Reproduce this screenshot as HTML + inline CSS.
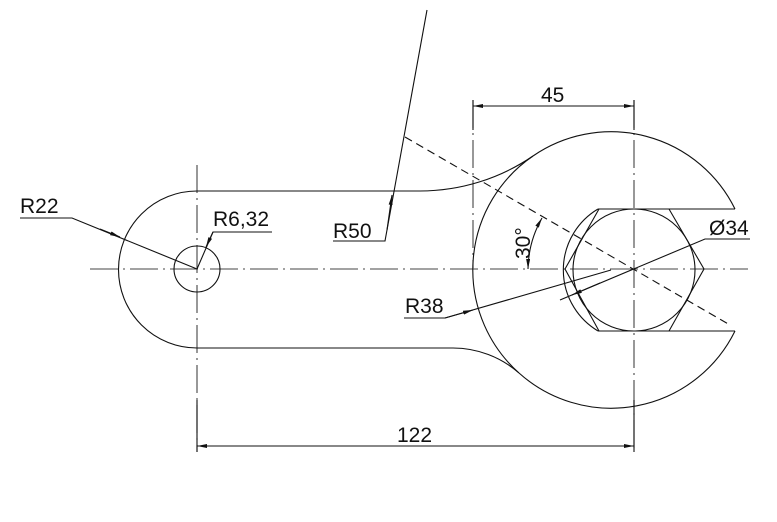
<!DOCTYPE html>
<html><head><meta charset="utf-8"><style>
html,body{margin:0;padding:0;background:#fff;}
svg{display:block;}
text{font-family:"Liberation Sans",sans-serif;font-size:21px;fill:#111;}
</style></head><body>
<svg width="777" height="522" viewBox="0 0 777 522" xmlns="http://www.w3.org/2000/svg">
<defs>
<marker id="ar" viewBox="0 0 10 4" refX="10" refY="2" markerWidth="10" markerHeight="4" markerUnits="userSpaceOnUse" orient="auto-start-reverse"><path d="M0,0 L10,2 L0,4 z" fill="#111"/></marker>
</defs>
<g fill="none" stroke="#111" stroke-width="1.1">
<g stroke="#444" stroke-dasharray="28,5,2,5">
<line x1="90" y1="269" x2="748" y2="269"/>
<line x1="197" y1="165" x2="197" y2="452"/>
<line x1="634" y1="100" x2="634" y2="452"/>
<line x1="473" y1="100" x2="473" y2="268"/>
</g>
<line x1="405" y1="137" x2="730" y2="325" stroke-dasharray="8,5"/>
<path d="M197,191 A78.5,78.5 0 0 0 197,348"/>
<circle cx="197" cy="269" r="23"/>
<path d="M197,191 L420,191 A200.7,200.7 0 0 0 533,156"/>
<path d="M197,348 L453,348 A100,100 0 0 1 519,373"/>
<path d="M533,156 A138,138 0 0 1 735,209"/>
<path d="M735,331 A138,138 0 0 1 519,373"/>
<path d="M533,156 A138,138 0 0 0 519,373"/>
<line x1="598" y1="209" x2="735" y2="209"/>
<line x1="598" y1="331" x2="735" y2="331"/>
<path d="M598,209 A71,71 0 0 0 598,331"/>
<polygon points="565,269 599,209 669,209 704,269 669,331 599,331"/>
<circle cx="634" cy="270" r="61"/>
<path d="M542,218 A106,106 0 0 0 528,269" marker-end="url(#ar)" marker-start="url(#ar)"/>
<line x1="197" y1="452" x2="197" y2="400"/>
<line x1="634" y1="452" x2="634" y2="400"/>
<line x1="197" y1="446" x2="634" y2="446" marker-start="url(#ar)" marker-end="url(#ar)"/>
<line x1="473" y1="100" x2="473" y2="130"/>
<line x1="634" y1="100" x2="634" y2="130"/>
<line x1="473" y1="106" x2="634" y2="106" marker-start="url(#ar)" marker-end="url(#ar)"/>
<polyline points="20,218 72,218 197,269"/>
<line x1="100" y1="229" x2="120" y2="237" marker-end="url(#ar)"/>
<polyline points="272,232 213,232 197,269"/>
<line x1="213" y1="232" x2="206" y2="247" marker-end="url(#ar)"/>
<polyline points="333,241 385,241 427,10"/>
<line x1="387" y1="230" x2="392" y2="195" marker-end="url(#ar)"/>
<polyline points="404,318 445,318 611,270"/>
<line x1="445" y1="318" x2="473" y2="310" marker-end="url(#ar)"/>
<polyline points="560,300 705,239 750,239"/>
<line x1="600" y1="283" x2="572" y2="295" marker-end="url(#ar)"/>
</g>
<text x="20" y="213">R22</text>
<text x="213" y="226">R6,32</text>
<text x="333" y="238">R50</text>
<text x="405" y="313">R38</text>
<text x="709" y="235">Ø34</text>
<text x="541" y="102">45</text>
<text x="397" y="442">122</text>
<text x="0" y="0" font-size="22" transform="translate(530,259) rotate(-90)">30°</text>
</svg>
</body></html>
